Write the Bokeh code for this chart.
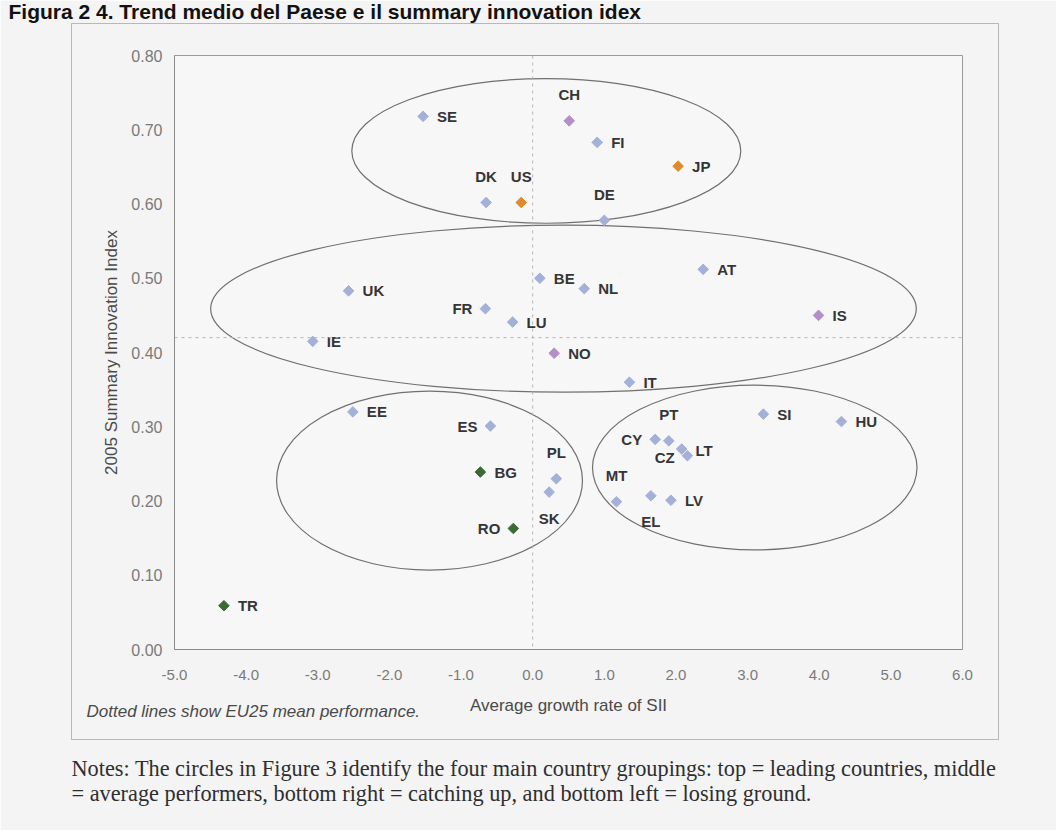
import numpy as np
from bokeh.plotting import figure
from bokeh.models import (Range1d, FixedTicker, PrintfTickFormatter, Span, Label,
                          ColumnDataSource, InlineStyleSheet)
from bokeh.core.properties import value
from bokeh.embed import file_html
from bokeh.resources import INLINE

# ---------------- data ----------------
countries = ["SE", "CH", "FI", "JP", "DK", "US", "DE", "AT", "BE", "NL", "UK",
             "FR", "IS", "LU", "IE", "NO", "IT", "EE", "SI", "HU", "ES", "CY",
             "PT", "CZ", "LT", "BG", "PL", "SK", "EL", "LV", "MT", "RO", "TR"]
growth = [-1.53, 0.51, 0.90, 2.03, -0.65, -0.16, 1.00, 2.38, 0.10, 0.72, -2.57,
          -0.66, 3.99, -0.28, -3.07, 0.30, 1.35, -2.51, 3.22, 4.31, -0.59, 1.71,
          1.90, 2.08, 2.16, -0.73, 0.33, 0.23, 1.65, 1.93, 1.17, -0.27, -4.31]
sii = [0.718, 0.712, 0.683, 0.651, 0.602, 0.602, 0.578, 0.512, 0.500, 0.486, 0.483,
       0.459, 0.450, 0.441, 0.415, 0.399, 0.360, 0.320, 0.317, 0.307, 0.301, 0.283,
       0.281, 0.270, 0.261, 0.239, 0.230, 0.212, 0.207, 0.201, 0.199, 0.163, 0.059]
group = ["EU", "EFTA", "EU", "US/JP", "EU", "US/JP", "EU", "EU", "EU", "EU", "EU",
         "EU", "EFTA", "EU", "EU", "EFTA", "EU", "EU", "EU", "EU", "EU", "EU",
         "EU", "EU", "EU", "CC", "EU", "EU", "EU", "EU", "EU", "CC", "CC"]

eu_mean_growth = 0.0
eu_mean_sii = 0.42

# groupings (ellipses): centre x, centre y, width, height
ell_x = [0.19, 0.43, -1.44, 3.10]
ell_y = [0.6715, 0.459, 0.2275, 0.245]
ell_w = [5.43, 9.85, 4.27, 4.53]
ell_h = [0.195, 0.225, 0.241, 0.222]

x_ticks = [-5.0, -4.0, -3.0, -2.0, -1.0, 0.0, 1.0, 2.0, 3.0, 4.0, 5.0, 6.0]
y_ticks = [0.0, 0.1, 0.2, 0.3, 0.4, 0.5, 0.6, 0.7, 0.8]

title_text = "Figura 2 4. Trend medio del Paese e il summary innovation idex"
x_label = "Average growth rate of SII"
y_label = "2005 Summary Innovation Index"
dotted_note = "Dotted lines show EU25 mean performance."
notes = ["Notes: The circles in Figure 3 identify the four main country groupings: top = leading countries, middle",
         "= average performers, bottom right = catching up, and bottom left = losing ground."]

# ---------------- styles ----------------
group_colors = {"EU": "#a3b1d9", "EFTA": "#b48ec6", "US/JP": "#e08a2c", "CC": "#3b6b32"}
placement = {"l": ["FR", "ES", "RO", "CY"],
             "t": ["CH", "DK", "US", "DE", "PT", "PL", "MT"],
             "b": ["SK", "EL"]}
special = {"CZ": (-7, 8, "right"), "LT": (8, -5, "left")}


def place(c):
    if c in special:
        return special[c]
    if c in placement["l"]:
        return (-13, 0, "right")
    if c in placement["t"]:
        return (0, -26, "center")
    if c in placement["b"]:
        return (0, 26, "center")
    return (14, 0, "left")


pl = [place(c) for c in countries]
src = ColumnDataSource(dict(
    x=growth, y=sii, name=countries,
    color=[group_colors[g] for g in group],
    xo=[q[0] for q in pl], yo=[q[1] for q in pl], align=[q[2] for q in pl],
))

W, H = 1056, 830
FL, FR, FT, FB = 174, 962, 55, 649   # plot frame in canvas pixels

box_css = InlineStyleSheet(css="""
:host { position: relative; }
:host::after {
  content: ""; position: absolute; left: 71px; top: 23px; width: 928px; height: 717px;
  box-sizing: border-box; border: 1px solid #b8b8b8; pointer-events: none;
}
""")

p = figure(width=W, height=H, x_range=Range1d(-5, 6), y_range=Range1d(0, 0.8),
           output_backend="svg", toolbar_location=None,
           min_border_left=FL, min_border_right=W - FR, min_border_top=FT,
           min_border_bottom=H - FB)
p.stylesheets = [box_css]

p.background_fill_color = "#f7f7f7"
p.border_fill_color = "#f4f4f4"
p.outline_line_color = "#9a9a9a"
p.grid.visible = False


def X(px):
    return -5 + (px - FL) * 11 / (FR - FL)


def Y(py):
    return (FB - py) * 0.8 / (FB - FT)


# EU25 mean dotted lines
p.add_layout(Span(location=eu_mean_sii, dimension="width", line_color="#b4b4b4",
                  line_dash="3 4", line_width=1))
p.add_layout(Span(location=eu_mean_growth, dimension="height", line_color="#b4b4b4",
                  line_dash="3 4", line_width=1))

# group ellipses
p.ellipse(x=ell_x, y=ell_y, width=ell_w, height=ell_h, fill_color=None,
          line_color="#707070", line_width=1.2)

# markers
p.scatter(x="x", y="y", source=src, marker="square", angle=np.pi / 4, size=7.5,
          fill_color="color", line_color="color")

# labels
p.text(x="x", y="y", text="name", source=src, x_offset="xo", y_offset="yo",
       text_align="align", text_baseline="middle", text_font=value("Liberation Sans"),
       text_font_style="bold", text_font_size="15px", text_color="#353535")

# axes
for ax, ticks, fmt, fs in ((p.xaxis[0], x_ticks, "%.1f", "15px"),
                           (p.yaxis[0], y_ticks, "%.2f", "16px")):
    ax.ticker = FixedTicker(ticks=ticks)
    ax.formatter = PrintfTickFormatter(format=fmt)
    ax.major_tick_line_color = None
    ax.minor_tick_line_color = None
    ax.axis_line_color = "#8a8a8a"
    ax.major_label_text_font = "Liberation Sans"
    ax.major_label_text_font_size = fs
    ax.major_label_text_color = "#7a7a7a"
    ax.axis_label_text_font = "Liberation Sans"
    ax.axis_label_text_font_size = "17px"
    ax.axis_label_text_font_style = "normal"
    ax.axis_label_text_color = "#4a4a4a"

p.xaxis.axis_label = x_label
p.yaxis.axis_label = y_label
p.xaxis.major_label_standoff = 14
p.xaxis.axis_label_standoff = 13
p.yaxis.major_label_standoff = 6
p.yaxis.axis_label_standoff = 7

# texts outside the plot area (side-panel annotations are not clipped to the frame)
p.add_layout(Label(x=X(8), y=Y(11), text=title_text, text_font="Liberation Sans",
                   text_font_style="bold", text_font_size="21px", text_color="#111111",
                   text_baseline="middle"), "below")
p.add_layout(Label(x=X(86), y=Y(711), text=dotted_note, text_font="Liberation Sans",
                   text_font_style="italic", text_font_size="17px", text_color="#4a4a4a",
                   text_baseline="middle"), "below")
for i, line in enumerate(notes):
    p.add_layout(Label(x=X(71), y=Y(768 + 25 * i), text=line, text_font="Liberation Serif",
                       text_font_size="22.3px", text_color="#2e2e2e", text_baseline="middle"),
                 "below")

open("out.html", "w").write(file_html(p, INLINE))
